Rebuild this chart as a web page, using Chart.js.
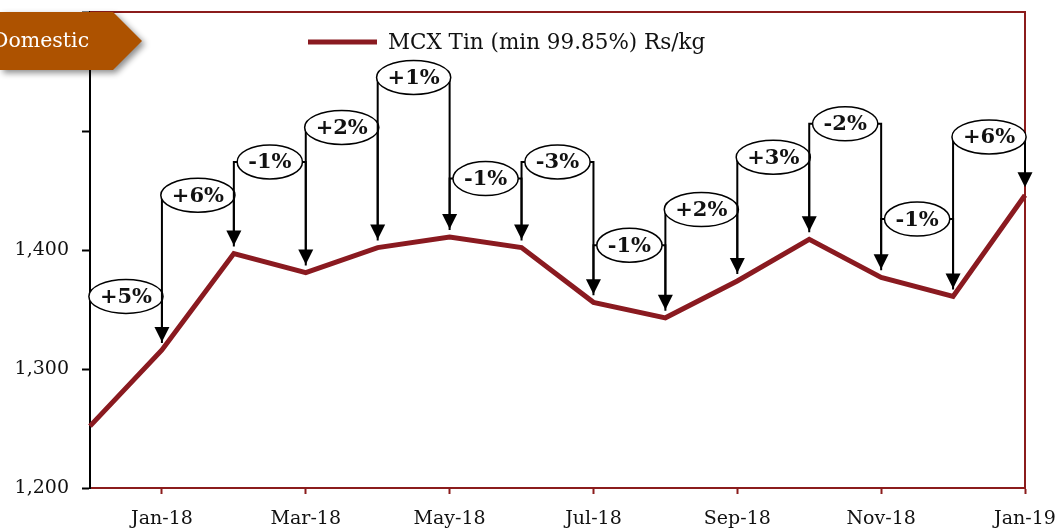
<!DOCTYPE html>
<html>
<head>
<meta charset="utf-8">
<title>MCX Tin</title>
<script src="https://cdn.jsdelivr.net/npm/chart.js@4.4.1/dist/chart.umd.min.js"></script>
<style>
  html, body { margin: 0; padding: 0; background: #fff; }
  canvas { display: block; }
</style>
</head>
<body>
<canvas id="chart" width="1058" height="529"></canvas>
<script>
// Monthly values, Rs/kg
const months = ['Dec-17', 'Jan-18', 'Feb-18', 'Mar-18', 'Apr-18', 'May-18', 'Jun-18',
  'Jul-18', 'Aug-18', 'Sep-18', 'Oct-18', 'Nov-18', 'Dec-18', 'Jan-19'];
const tinPrices = [1252, 1316, 1397, 1381, 1402, 1411, 1402, 1356, 1343, 1374, 1409, 1377, 1361, 1446];

// Month-on-month change callouts (one per interval) and the level each label sits at
const changeLabels = ['+5%', '+6%', '-1%', '+2%', '+1%', '-1%', '-3%', '-1%', '+2%', '+3%', '-2%', '-1%', '+6%'];
const calloutLevels = [1361, 1446, 1474, 1503, 1545, 1460, 1474, 1404, 1434, 1478, 1506, 1426, 1495];

const yTicks = [1200, 1300, 1400, 1500, 1600];
const seriesName = 'MCX Tin (min 99.85%) Rs/kg';

const LINE_RED = '#8a1a20';
const FRAME_RED = '#8b1c1c';
const SERIF = '"DejaVu Serif", Georgia, serif';

/**
 * Frame, callouts, legend and the "Domestic" tag
 */
const decorPlugin = {
  id: 'decor',
  beforeDatasetsDraw(chart) {
    const { ctx, chartArea: a } = chart;
    ctx.save();
    ctx.strokeStyle = FRAME_RED;
    ctx.lineWidth = 2;
    ctx.beginPath();
    ctx.moveTo(a.left, a.top);
    ctx.lineTo(a.right, a.top);
    ctx.lineTo(a.right, a.bottom);
    ctx.stroke();
    ctx.restore();
  },
  afterDatasetsDraw(chart) {
    const { ctx } = chart;
    const xs = chart.scales.x;
    const ys = chart.scales.y;

    ctx.save();
    ctx.font = 'bold 21px ' + SERIF;
    ctx.textAlign = 'center';
    ctx.textBaseline = 'middle';

    changeLabels.forEach((label, i) => {
      const x0 = xs.getPixelForValue(i);
      const x1 = xs.getPixelForValue(i + 1);
      const yL = ys.getPixelForValue(calloutLevels[i]);
      const yStart = ys.getPixelForValue(tinPrices[i]) - 7;
      const yTip = ys.getPixelForValue(tinPrices[i + 1]) - 8;

      ctx.strokeStyle = '#000';
      ctx.lineWidth = 2;
      ctx.beginPath();
      ctx.moveTo(x0, yStart);
      ctx.lineTo(x0, yL);
      ctx.lineTo(x1, yL);
      ctx.lineTo(x1, yTip - 14);
      ctx.stroke();

      // arrow head
      ctx.fillStyle = '#000';
      ctx.beginPath();
      ctx.moveTo(x1, yTip);
      ctx.lineTo(x1 - 7.5, yTip - 15);
      ctx.lineTo(x1 + 7.5, yTip - 15);
      ctx.closePath();
      ctx.fill();

      // label bubble
      const cx = (x0 + x1) / 2;
      const rx = (ctx.measureText(label).width + 22) / 2;
      ctx.beginPath();
      ctx.ellipse(cx, yL, rx, 17, 0, 0, Math.PI * 2);
      ctx.fillStyle = '#fff';
      ctx.fill();
      ctx.lineWidth = 1.5;
      ctx.stroke();
      ctx.fillStyle = '#111';
      ctx.fillText(label, cx, yL + 1);
    });
    ctx.restore();
  },
  afterDraw(chart) {
    const { ctx, chartArea: a } = chart;
    ctx.save();

    // legend
    const ly = a.top + 30;
    const lx = a.left + 218;
    ctx.strokeStyle = LINE_RED;
    ctx.lineWidth = 5;
    ctx.beginPath();
    ctx.moveTo(lx, ly);
    ctx.lineTo(lx + 69, ly);
    ctx.stroke();
    ctx.fillStyle = '#111';
    ctx.font = '21.5px ' + SERIF;
    ctx.textAlign = 'left';
    ctx.textBaseline = 'middle';
    ctx.fillText(seriesName, lx + 80, ly + 1);

    // "Domestic" tag
    const top = a.top, h = 58;
    ctx.shadowColor = 'rgba(0, 0, 0, 0.45)';
    ctx.shadowBlur = 6;
    ctx.shadowOffsetX = 3;
    ctx.shadowOffsetY = 3;
    ctx.fillStyle = '#ad5200';
    ctx.beginPath();
    ctx.moveTo(0, top);
    ctx.lineTo(113, top);
    ctx.lineTo(142, top + h / 2);
    ctx.lineTo(113, top + h);
    ctx.lineTo(0, top + h);
    ctx.closePath();
    ctx.fill();
    ctx.shadowColor = 'transparent';
    ctx.fillStyle = '#fff';
    ctx.font = '20.5px ' + SERIF;
    ctx.fillText('Domestic', -8, top + h / 2 + 1);
    ctx.restore();
  }
};

const ctx = document.getElementById('chart');

new Chart(ctx, {
  type: 'line',
  data: {
    labels: months,
    datasets: [{
      label: seriesName,
      data: tinPrices,
      borderColor: LINE_RED,
      backgroundColor: LINE_RED,
      borderWidth: 5,
      pointRadius: 0,
      tension: 0
    }]
  },
  options: {
    responsive: false,
    animation: false,
    layout: { padding: { top: 12, right: 33, left: 0, bottom: 0 } },
    plugins: {
      legend: { display: false },
      tooltip: { enabled: false }
    },
    scales: {
      x: {
        offset: false,
        afterFit: (scale) => {
          scale.height = 41;
          scale.paddingLeft = 0;
          scale.paddingRight = 0;
        },
        border: { color: FRAME_RED, width: 2 },
        grid: {
          drawOnChartArea: false,
          tickLength: 6,
          tickWidth: 2,
          tickColor: (c) => (c.index % 2 ? FRAME_RED : 'rgba(0,0,0,0)')
        },
        ticks: {
          autoSkip: false,
          maxRotation: 0,
          padding: 14,
          color: '#111',
          font: { family: SERIF, size: 19 },
          callback: (v, i) => (i % 2 ? months[i] : '')
        }
      },
      y: {
        min: yTicks[0],
        max: yTicks[yTicks.length - 1],
        afterFit: (scale) => {
          scale.width = 90;
          scale.paddingTop = 0;
          scale.paddingBottom = 0;
        },
        afterBuildTicks: (scale) => { scale.ticks = yTicks.map(v => ({ value: v })); },
        border: { color: '#000', width: 2 },
        grid: {
          drawOnChartArea: false,
          tickLength: 8,
          tickWidth: 2,
          tickColor: '#000'
        },
        ticks: {
          padding: 13,
          color: '#111',
          font: { family: SERIF, size: 19 },
          callback: (v) => (v <= 1400 ? v.toLocaleString('en-US') : '')
        }
      }
    }
  },
  plugins: [decorPlugin]
});
</script>
</body>
</html>
